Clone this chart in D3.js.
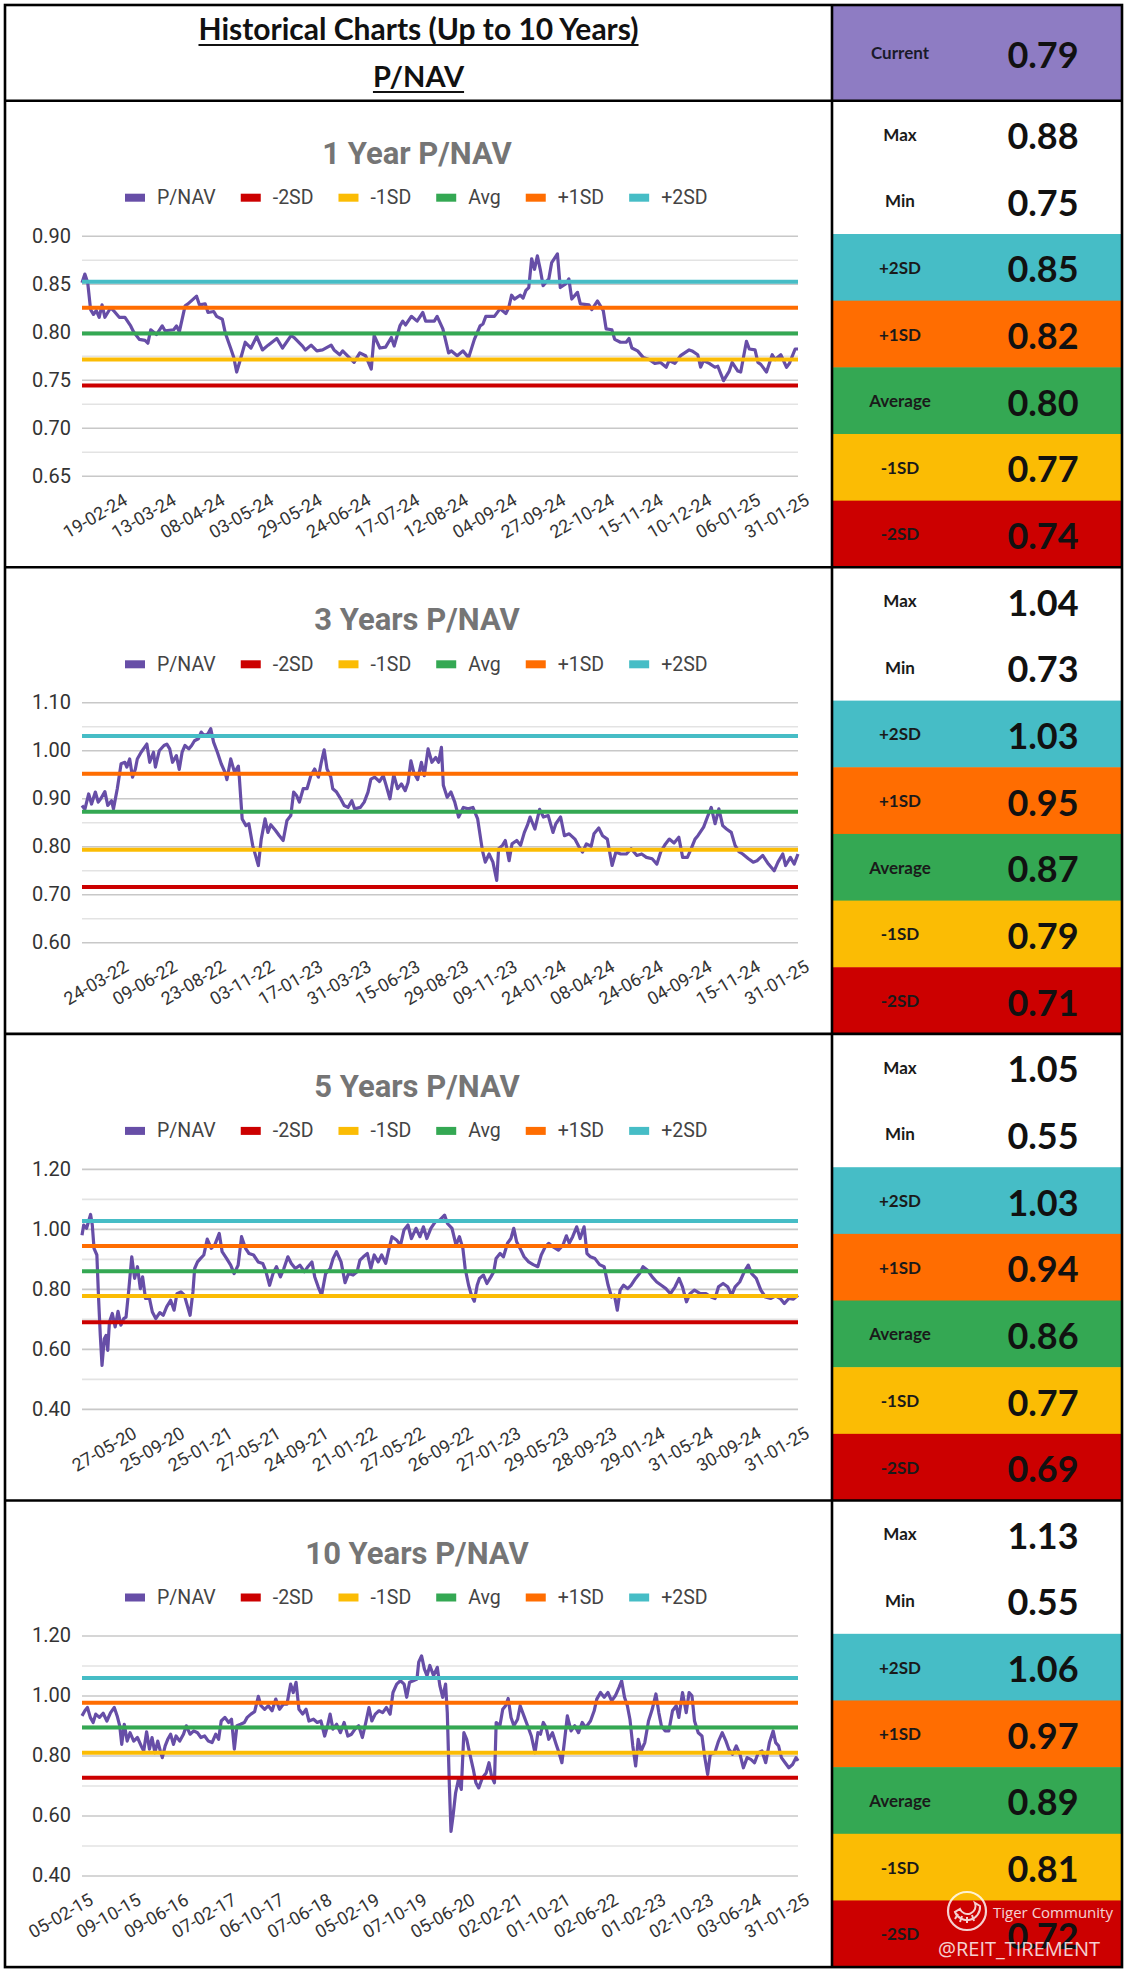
<!DOCTYPE html>
<html>
<head>
<meta charset="utf-8">
<script src="https://cdn.jsdelivr.net/npm/d3@7"></script>
<style>
  body { margin: 0; background: #fff; }
  svg { display: block; }
</style>
</head>
<body>
<svg id="chart"></svg>
<script>
// ---- values ----
const currentValue = 0.79;
const sectionTitles = ['1 Year P/NAV', '3 Years P/NAV', '5 Years P/NAV', '10 Years P/NAV'];
const legendNames = ['P/NAV', '-2SD', '-1SD', 'Avg', '+1SD', '+2SD'];
const rowLabels = ['Max', 'Min', '+2SD', '+1SD', 'Average', '-1SD', '-2SD'];

const table1y = [0.88, 0.75, 0.85, 0.82, 0.80, 0.77, 0.74];
const table3y = [1.04, 0.73, 1.03, 0.95, 0.87, 0.79, 0.71];
const table5y = [1.05, 0.55, 1.03, 0.94, 0.86, 0.77, 0.69];
const table10y = [1.13, 0.55, 1.06, 0.97, 0.89, 0.81, 0.72];

// band lines, order -2SD, -1SD, Avg, +1SD, +2SD
const refs1y = [0.744, 0.771, 0.798, 0.825, 0.852];
const refs3y = [0.715, 0.793, 0.872, 0.951, 1.030];
const refs5y = [0.689, 0.776, 0.859, 0.943, 1.026];
const refs10y = [0.726, 0.809, 0.893, 0.976, 1.058];

const yDomain1y = [0.65, 0.90], yGrid1y = [0.025, 0.05];
const yDomain3y = [0.60, 1.10], yGrid3y = [0.05, 0.10];
const yDomain5y = [0.40, 1.20], yGrid5y = [0.10, 0.20];
const yDomain10y = [0.40, 1.20], yGrid10y = [0.10, 0.20];

const ticks1y = ['19-02-24','13-03-24','08-04-24','03-05-24','29-05-24','24-06-24','17-07-24','12-08-24','04-09-24','27-09-24','22-10-24','15-11-24','10-12-24','06-01-25','31-01-25'];
const ticks3y = ['24-03-22','09-06-22','23-08-22','03-11-22','17-01-23','31-03-23','15-06-23','29-08-23','09-11-23','24-01-24','08-04-24','24-06-24','04-09-24','15-11-24','31-01-25'];
const ticks5y = ['27-05-20','25-09-20','25-01-21','27-05-21','24-09-21','21-01-22','27-05-22','26-09-22','27-01-23','29-05-23','28-09-23','29-01-24','31-05-24','30-09-24','31-01-25'];
const ticks10y = ['05-02-15','09-10-15','09-06-16','07-02-17','06-10-17','07-06-18','05-02-19','07-10-19','05-06-20','02-02-21','01-10-21','02-06-22','01-02-23','02-10-23','03-06-24','31-01-25'];
// trading days between labels (labels counted back from the last day)
const tickStep1y = 17, tickStep3y = 51, tickStep5y = 84, tickStep10y = 167;

// [trading day, P/NAV]
const pnav1y = [[0,0.851],[1,0.860],[2,0.851],[3,0.823],[4,0.818],[5,0.822],[6,0.815],[7,0.828],[8,0.815],[10,0.825],[11,0.822],[13,0.815],[15,0.815],[17,0.806],[18,0.800],[20,0.792],[22,0.791],[23,0.788],[24,0.802],[26,0.797],[28,0.806],[29,0.801],[32,0.802],[33,0.806],[34,0.800],[36,0.827],[37,0.829],[40,0.837],[41,0.828],[43,0.829],[44,0.820],[46,0.821],[47,0.816],[49,0.813],[50,0.799],[52,0.782],[53,0.773],[54,0.758],[55,0.768],[57,0.789],[59,0.783],[61,0.795],[63,0.781],[65,0.786],[68,0.793],[70,0.783],[73,0.796],[74,0.794],[77,0.785],[78,0.781],[80,0.786],[82,0.780],[84,0.781],[87,0.786],[88,0.781],[90,0.776],[91,0.780],[93,0.774],[95,0.768],[97,0.778],[99,0.775],[100,0.768],[101,0.761],[102,0.796],[104,0.783],[106,0.784],[108,0.794],[109,0.785],[111,0.806],[112,0.811],[113,0.807],[115,0.816],[117,0.811],[119,0.820],[120,0.811],[123,0.811],[124,0.816],[126,0.803],[128,0.778],[129,0.780],[131,0.775],[133,0.780],[135,0.773],[137,0.792],[139,0.806],[140,0.808],[141,0.816],[144,0.816],[146,0.824],[148,0.819],[149,0.825],[150,0.838],[151,0.834],[153,0.838],[154,0.835],[155,0.843],[156,0.846],[157,0.876],[158,0.865],[159,0.879],[160,0.865],[161,0.848],[163,0.855],[164,0.872],[166,0.881],[167,0.846],[169,0.850],[170,0.855],[171,0.834],[173,0.841],[174,0.829],[177,0.828],[178,0.823],[180,0.832],[182,0.822],[183,0.803],[185,0.802],[186,0.792],[188,0.789],[190,0.789],[191,0.793],[192,0.783],[194,0.780],[196,0.773],[198,0.771],[200,0.767],[202,0.768],[204,0.763],[205,0.770],[207,0.767],[209,0.775],[212,0.781],[213,0.780],[215,0.776],[216,0.763],[217,0.770],[219,0.767],[221,0.763],[222,0.764],[224,0.749],[226,0.759],[227,0.768],[229,0.759],[230,0.758],[232,0.790],[233,0.782],[235,0.781],[236,0.768],[237,0.766],[239,0.758],[241,0.776],[242,0.771],[244,0.776],[246,0.763],[247,0.767],[249,0.782],[250,0.782]];

const pnav3y = [[0,0.885],[3,0.877],[7,0.909],[10,0.888],[14,0.913],[17,0.892],[20,0.900],[24,0.914],[27,0.885],[31,0.895],[33,0.878],[37,0.920],[41,0.972],[45,0.975],[47,0.965],[50,0.982],[53,0.944],[56,0.961],[58,0.982],[62,0.996],[68,1.013],[71,0.975],[75,0.996],[77,0.965],[81,0.999],[86,1.010],[89,1.013],[92,1.003],[95,0.975],[99,0.989],[102,0.960],[105,0.996],[108,1.010],[112,1.003],[115,1.010],[118,1.020],[122,1.024],[125,1.038],[128,1.031],[132,1.034],[135,1.045],[138,1.017],[142,0.996],[146,0.972],[150,0.954],[152,0.939],[156,0.982],[160,0.954],[164,0.967],[165,0.944],[168,0.857],[172,0.843],[175,0.847],[179,0.802],[182,0.781],[185,0.760],[188,0.815],[192,0.857],[195,0.829],[198,0.845],[203,0.833],[207,0.822],[211,0.812],[215,0.854],[219,0.864],[222,0.913],[225,0.906],[228,0.892],[232,0.920],[236,0.920],[240,0.947],[244,0.961],[248,0.944],[251,0.975],[254,1.001],[257,0.961],[261,0.944],[263,0.920],[267,0.913],[271,0.900],[275,0.885],[279,0.881],[283,0.895],[286,0.878],[292,0.881],[296,0.892],[300,0.913],[303,0.940],[307,0.944],[312,0.935],[316,0.947],[319,0.927],[323,0.899],[327,0.949],[331,0.920],[335,0.930],[339,0.916],[342,0.933],[345,0.978],[348,0.954],[352,0.939],[356,0.975],[359,0.947],[363,1.003],[367,0.975],[371,0.985],[374,0.975],[377,1.006],[379,0.927],[383,0.902],[387,0.913],[391,0.892],[395,0.861],[400,0.881],[405,0.878],[410,0.881],[415,0.857],[420,0.791],[423,0.767],[427,0.784],[431,0.767],[435,0.729],[437,0.795],[441,0.802],[444,0.812],[448,0.770],[451,0.805],[456,0.812],[460,0.802],[464,0.829],[467,0.843],[470,0.861],[475,0.836],[480,0.877],[484,0.861],[489,0.864],[494,0.829],[497,0.847],[502,0.861],[506,0.822],[511,0.826],[517,0.815],[521,0.800],[525,0.788],[529,0.805],[534,0.800],[537,0.826],[542,0.838],[546,0.822],[551,0.815],[556,0.760],[560,0.788],[565,0.784],[571,0.784],[576,0.795],[582,0.781],[587,0.784],[592,0.777],[598,0.774],[603,0.763],[607,0.788],[612,0.805],[616,0.815],[621,0.807],[626,0.819],[630,0.777],[635,0.777],[639,0.795],[643,0.815],[646,0.822],[652,0.840],[656,0.861],[660,0.881],[664,0.847],[668,0.878],[672,0.843],[676,0.836],[681,0.829],[685,0.802],[689,0.789],[693,0.784],[699,0.774],[704,0.767],[708,0.770],[714,0.781],[720,0.763],[726,0.749],[730,0.767],[735,0.784],[738,0.760],[743,0.777],[747,0.763],[751,0.784]];

const pnav5y = [[0,0.979],[3,1.013],[8,1.002],[15,1.048],[18,1.013],[21,0.935],[26,0.913],[29,0.768],[32,0.645],[35,0.545],[39,0.634],[42,0.645],[45,0.595],[48,0.690],[53,0.718],[58,0.673],[63,0.725],[68,0.679],[73,0.701],[77,0.706],[82,0.801],[87,0.907],[92,0.835],[97,0.874],[102,0.801],[106,0.840],[111,0.768],[118,0.768],[123,0.723],[129,0.701],[136,0.721],[142,0.712],[148,0.740],[155,0.762],[161,0.729],[166,0.784],[173,0.790],[179,0.779],[184,0.745],[189,0.712],[194,0.790],[197,0.868],[202,0.890],[207,0.901],[213,0.913],[219,0.966],[226,0.935],[232,0.946],[240,0.985],[245,0.924],[253,0.901],[260,0.879],[266,0.851],[273,0.879],[279,0.974],[286,0.935],[292,0.918],[300,0.913],[308,0.890],[316,0.885],[321,0.862],[328,0.812],[334,0.851],[340,0.874],[347,0.840],[353,0.868],[360,0.907],[366,0.885],[373,0.868],[381,0.879],[389,0.857],[395,0.874],[402,0.890],[407,0.840],[413,0.807],[419,0.779],[426,0.851],[434,0.868],[439,0.901],[445,0.924],[453,0.890],[460,0.821],[466,0.851],[474,0.846],[481,0.857],[486,0.896],[492,0.907],[499,0.918],[505,0.868],[511,0.913],[518,0.890],[524,0.913],[531,0.885],[537,0.935],[542,0.974],[550,0.963],[557,0.946],[563,0.996],[570,1.013],[576,0.968],[584,1.002],[591,0.974],[597,1.007],[603,0.968],[610,1.002],[618,1.024],[626,1.030],[634,1.046],[639,1.018],[647,1.002],[654,0.946],[660,0.974],[666,0.935],[670,0.868],[676,0.812],[681,0.779],[686,0.759],[691,0.812],[695,0.835],[702,0.846],[708,0.818],[715,0.840],[720,0.857],[724,0.901],[731,0.918],[737,0.907],[744,0.952],[750,0.968],[755,1.002],[760,0.957],[766,0.935],[773,0.907],[781,0.890],[789,0.881],[797,0.874],[803,0.913],[810,0.940],[816,0.952],[824,0.940],[833,0.929],[841,0.946],[847,0.977],[852,0.952],[858,0.974],[865,1.007],[871,0.968],[878,1.007],[883,0.918],[889,0.907],[897,0.901],[905,0.881],[913,0.874],[920,0.812],[926,0.773],[931,0.779],[936,0.729],[941,0.796],[947,0.812],[954,0.801],[960,0.812],[968,0.835],[975,0.851],[981,0.874],[989,0.862],[997,0.840],[1005,0.823],[1013,0.812],[1021,0.801],[1029,0.784],[1037,0.807],[1044,0.835],[1050,0.807],[1057,0.757],[1063,0.784],[1071,0.796],[1081,0.784],[1091,0.784],[1100,0.773],[1107,0.768],[1113,0.807],[1121,0.818],[1129,0.807],[1136,0.779],[1142,0.807],[1150,0.823],[1158,0.857],[1165,0.879],[1171,0.851],[1179,0.835],[1187,0.796],[1195,0.773],[1204,0.768],[1213,0.777],[1221,0.768],[1228,0.751],[1236,0.768],[1244,0.766],[1252,0.779]];

const pnav10y = [[0,0.932],[10,0.949],[19,0.960],[29,0.927],[39,0.910],[48,0.938],[61,0.927],[74,0.941],[87,0.915],[100,0.943],[113,0.960],[123,0.932],[132,0.899],[139,0.837],[148,0.904],[158,0.848],[168,0.876],[181,0.848],[194,0.860],[207,0.832],[216,0.815],[226,0.879],[236,0.821],[245,0.860],[255,0.809],[265,0.848],[274,0.815],[281,0.793],[291,0.832],[300,0.854],[310,0.871],[320,0.837],[329,0.865],[342,0.848],[355,0.871],[365,0.899],[378,0.871],[391,0.882],[404,0.876],[416,0.860],[429,0.865],[442,0.848],[455,0.843],[468,0.871],[478,0.854],[487,0.915],[500,0.927],[513,0.910],[523,0.921],[533,0.821],[542,0.899],[555,0.904],[568,0.910],[578,0.927],[591,0.938],[604,0.946],[617,0.997],[626,0.966],[639,0.954],[652,0.966],[665,0.949],[678,0.988],[691,0.954],[704,0.971],[717,0.971],[730,1.038],[739,1.010],[749,1.044],[759,0.954],[772,0.938],[784,0.954],[794,0.915],[810,0.921],[823,0.910],[836,0.915],[849,0.865],[859,0.899],[868,0.938],[878,0.888],[891,0.904],[904,0.876],[917,0.910],[930,0.865],[943,0.871],[955,0.888],[968,0.899],[981,0.860],[994,0.915],[1004,0.960],[1014,0.915],[1026,0.938],[1039,0.949],[1052,0.943],[1065,0.960],[1078,0.938],[1088,1.010],[1101,1.038],[1114,1.049],[1127,1.038],[1136,0.994],[1146,1.044],[1159,1.049],[1172,1.055],[1178,1.111],[1188,1.132],[1198,1.088],[1207,1.066],[1217,1.100],[1230,1.066],[1243,1.094],[1252,1.033],[1262,0.994],[1272,1.038],[1278,0.943],[1285,0.709],[1291,0.547],[1298,0.597],[1307,0.675],[1317,0.720],[1327,0.687],[1336,0.876],[1346,0.854],[1356,0.809],[1369,0.754],[1378,0.709],[1388,0.692],[1401,0.726],[1414,0.742],[1424,0.776],[1433,0.731],[1443,0.709],[1449,0.910],[1462,0.899],[1472,0.954],[1482,0.966],[1491,0.990],[1501,0.927],[1511,0.899],[1524,0.921],[1533,0.966],[1546,0.932],[1559,0.899],[1572,0.865],[1585,0.809],[1595,0.876],[1604,0.871],[1614,0.910],[1624,0.893],[1633,0.854],[1646,0.876],[1659,0.837],[1669,0.809],[1679,0.776],[1688,0.848],[1698,0.932],[1711,0.882],[1724,0.899],[1737,0.876],[1750,0.910],[1762,0.893],[1779,0.915],[1792,0.949],[1801,0.988],[1814,1.010],[1827,0.994],[1840,1.010],[1853,0.982],[1866,0.999],[1879,1.027],[1888,1.049],[1898,0.994],[1908,0.966],[1917,0.921],[1927,0.832],[1937,0.765],[1946,0.854],[1956,0.815],[1969,0.843],[1982,0.915],[1995,0.954],[2008,1.005],[2018,0.943],[2027,0.899],[2040,0.882],[2053,0.882],[2066,0.949],[2079,0.966],[2088,0.927],[2101,1.010],[2114,0.943],[2124,1.010],[2134,0.999],[2143,0.915],[2156,0.876],[2169,0.865],[2179,0.793],[2189,0.737],[2198,0.804],[2214,0.809],[2227,0.848],[2240,0.876],[2253,0.848],[2263,0.821],[2276,0.804],[2289,0.832],[2302,0.804],[2314,0.759],[2327,0.793],[2340,0.787],[2353,0.776],[2366,0.809],[2379,0.815],[2392,0.776],[2405,0.843],[2418,0.882],[2427,0.843],[2437,0.832],[2447,0.793],[2460,0.776],[2473,0.759],[2486,0.770],[2498,0.793],[2505,0.782]];

// ---- styles and layout ----
const seriesColor = {'P/NAV': '#674ea7', '-2SD': '#cc0000', '-1SD': '#fbbc04', 'Avg': '#34a853', '+1SD': '#ff6d01', '+2SD': '#46bdc6'};
const rowFill = {'Max': '#ffffff', 'Min': '#ffffff', '+2SD': '#46bdc6', '+1SD': '#ff6d01', 'Average': '#34a853', '-1SD': '#fbbc04', '-2SD': '#cc0000'};
const tableFont = 'Lato, "Open Sans", sans-serif';
const chartFont = 'Roboto, "Noto Sans", sans-serif';

const W = 1130, H = 1975;
const box = {left: 5, right: 1122, top: 5, headerBottom: 100.7, sectionH: 466.6, divider: 832};
const plot = {left: 82, right: 798, top: 135, bottom: 375};
const cellLabelX = 900, cellValueX = 1043;

const svg = d3.select('#chart').attr('width', W).attr('height', H);
svg.append('rect').attr('width', W).attr('height', H).attr('fill', '#fff');

const sections = [
  {title: sectionTitles[0], series: pnav1y, refs: refs1y, domain: yDomain1y, grid: yGrid1y, ticks: ticks1y, step: tickStep1y, table: table1y},
  {title: sectionTitles[1], series: pnav3y, refs: refs3y, domain: yDomain3y, grid: yGrid3y, ticks: ticks3y, step: tickStep3y, table: table3y},
  {title: sectionTitles[2], series: pnav5y, refs: refs5y, domain: yDomain5y, grid: yGrid5y, ticks: ticks5y, step: tickStep5y, table: table5y},
  {title: sectionTitles[3], series: pnav10y, refs: refs10y, domain: yDomain10y, grid: yGrid10y, ticks: ticks10y, step: tickStep10y, table: table10y}
];

function drawSection(cfg, i) {
  const T = box.headerBottom + i * box.sectionH;
  const g = svg.append('g');
  const lastDay = d3.max(cfg.series, d => d[0]);

  const x = d3.scaleLinear().domain([0, lastDay]).range([plot.left, plot.right]);
  const y = d3.scaleLinear().domain(cfg.domain).range([T + plot.bottom, T + plot.top]);

  const [lo, hi] = cfg.domain;
  const [minor, major] = cfg.grid;
  const nGrid = Math.round((hi - lo) / minor);
  const ratio = Math.round(major / minor);
  const gridVals = d3.range(nGrid + 1).map(k => +(lo + k * minor).toFixed(4));
  const minorVals = gridVals.filter((v, k) => k % ratio !== 0);
  const majorVals = gridVals.filter((v, k) => k % ratio === 0);

  // minor grid
  g.append('g')
    .attr('transform', `translate(${plot.left},0)`)
    .call(d3.axisLeft(y).tickValues(minorVals).tickSize(-(plot.right - plot.left)).tickFormat(''))
    .call(s => s.select('.domain').remove())
    .selectAll('line').attr('stroke', '#e3e3e3').attr('stroke-width', 1.6);

  // major grid with labels
  const yAxis = g.append('g')
    .attr('transform', `translate(${plot.left},0)`)
    .call(d3.axisLeft(y).tickValues(majorVals).tickSize(-(plot.right - plot.left)).tickPadding(11).tickFormat(d3.format('.2f')))
    .call(s => s.select('.domain').remove());
  yAxis.selectAll('line').attr('stroke', '#c8c8c8').attr('stroke-width', 1.6);
  yAxis.selectAll('text').attr('font-family', chartFont).attr('font-size', 20).attr('fill', '#333');

  // x axis labels
  const tickDays = cfg.ticks.map((t, k) => lastDay - (cfg.ticks.length - 1 - k) * cfg.step);
  const xAxis = g.append('g')
    .attr('transform', `translate(0,${T + plot.bottom})`)
    .call(d3.axisBottom(x).tickValues(tickDays).tickSize(0).tickFormat((d, k) => cfg.ticks[k]))
    .call(s => s.select('.domain').remove());
  xAxis.selectAll('text')
    .attr('font-family', chartFont).attr('font-size', 18).attr('fill', '#333')
    .attr('text-anchor', 'end').attr('x', 0).attr('y', 0).attr('dy', 0)
    .attr('transform', 'translate(12,28) rotate(-30)');

  // P/NAV line
  g.append('path')
    .datum(cfg.series)
    .attr('fill', 'none')
    .attr('stroke', seriesColor['P/NAV'])
    .attr('stroke-width', 3.2)
    .attr('stroke-linejoin', 'round')
    .attr('d', d3.line().x(d => x(d[0])).y(d => y(d[1])));

  // band lines
  g.append('g').selectAll('line')
    .data(cfg.refs)
    .join('line')
    .attr('x1', x(0)).attr('x2', x(lastDay))
    .attr('y1', d => y(d)).attr('y2', d => y(d))
    .attr('stroke', (d, k) => seriesColor[legendNames[k + 1]])
    .attr('stroke-width', 4);

  // title
  g.append('text')
    .attr('x', 417).attr('y', T + 63)
    .attr('text-anchor', 'middle')
    .attr('font-family', chartFont).attr('font-weight', 700).attr('font-size', 31)
    .attr('fill', '#757575')
    .text(cfg.title);

  // legend
  let lx = 125;
  const legY = T + 97;
  legendNames.forEach(name => {
    g.append('rect').attr('x', lx).attr('y', legY - 4).attr('width', 20).attr('height', 8)
      .attr('fill', seriesColor[name]);
    const t = g.append('text').attr('x', lx + 32).attr('y', legY)
      .attr('dominant-baseline', 'central')
      .attr('font-family', chartFont).attr('font-size', 19.5).attr('fill', '#444')
      .text(name);
    lx += 32 + t.node().getComputedTextLength() + 25;
  });

  // table column
  const rowH = box.sectionH / rowLabels.length;
  const rows = g.append('g').selectAll('g')
    .data(rowLabels.map((lab, k) => ({lab, val: cfg.table[k], k})))
    .join('g');
  rows.append('rect')
    .attr('x', box.divider).attr('y', d => T + d.k * rowH)
    .attr('width', box.right - box.divider).attr('height', rowH + 0.5)
    .attr('fill', d => rowFill[d.lab]);
  rows.append('text')
    .attr('x', cellLabelX).attr('y', d => T + (d.k + 0.5) * rowH)
    .attr('text-anchor', 'middle').attr('dominant-baseline', 'central')
    .attr('font-family', tableFont).attr('font-weight', 700).attr('font-size', 17)
    .attr('fill', '#1a1a1a')
    .text(d => d.lab);
  rows.append('text')
    .attr('x', cellValueX).attr('y', d => T + (d.k + 0.5) * rowH + 1)
    .attr('text-anchor', 'middle').attr('dominant-baseline', 'central')
    .attr('font-family', tableFont).attr('font-weight', 700).attr('font-size', 36)
    .attr('fill', '#111')
    .text(d => d3.format('.2f')(d.val));
}

sections.forEach(drawSection);

// ---- header ----
svg.append('rect')
  .attr('x', box.divider).attr('y', box.top)
  .attr('width', box.right - box.divider).attr('height', box.headerBottom - box.top)
  .attr('fill', '#8e7cc3');
svg.append('text')
  .attr('x', cellLabelX).attr('y', (box.top + box.headerBottom) / 2)
  .attr('text-anchor', 'middle').attr('dominant-baseline', 'central')
  .attr('font-family', tableFont).attr('font-weight', 700).attr('font-size', 17).attr('fill', '#1a1a2a')
  .text('Current');
svg.append('text')
  .attr('x', cellValueX).attr('y', (box.top + box.headerBottom) / 2 + 1)
  .attr('text-anchor', 'middle').attr('dominant-baseline', 'central')
  .attr('font-family', tableFont).attr('font-weight', 700).attr('font-size', 36).attr('fill', '#111')
  .text(d3.format('.2f')(currentValue));

const headX = (box.left + box.divider) / 2;
[['Historical Charts (Up to 10 Years)', 40, 30], ['P/NAV', 87, 29]].forEach(([txt, by, fs]) => {
  const t = svg.append('text')
    .attr('x', headX).attr('y', by)
    .attr('text-anchor', 'middle')
    .attr('font-family', tableFont).attr('font-weight', 700).attr('font-size', fs).attr('fill', '#111')
    .text(txt);
  const w = t.node().getComputedTextLength();
  svg.append('line')
    .attr('x1', headX - w / 2).attr('x2', headX + w / 2)
    .attr('y1', by + 5).attr('y2', by + 5)
    .attr('stroke', '#111').attr('stroke-width', 2.2);
});

// ---- borders ----
const borders = svg.append('g').attr('stroke', '#000').attr('stroke-width', 2.6).attr('fill', 'none');
const bottomY = box.headerBottom + 4 * box.sectionH;
borders.append('rect')
  .attr('x', box.left).attr('y', box.top)
  .attr('width', box.right - box.left).attr('height', bottomY - box.top);
borders.append('line').attr('x1', box.divider).attr('x2', box.divider).attr('y1', box.top).attr('y2', bottomY);
d3.range(4).forEach(k => {
  const yy = box.headerBottom + k * box.sectionH;
  borders.append('line').attr('x1', box.left).attr('x2', box.right).attr('y1', yy).attr('y2', yy);
});

// ---- watermark ----
const wm = svg.append('g').attr('opacity', 0.82);
wm.append('circle').attr('cx', 967).attr('cy', 1911).attr('r', 19)
  .attr('fill', 'none').attr('stroke', '#fff').attr('stroke-width', 2.2);
wm.append('path')
  .attr('d', 'M955,1912 A13,13 0 0,0 980,1906 L975,1903 A8,8 0 0,1 960,1909 Z')
  .attr('fill', 'none').attr('stroke', '#fff').attr('stroke-width', 2);
[[958,1914,955,1919],[962,1916,960,1922],[967,1917,967,1923],[972,1915,974,1921]].forEach(s => {
  wm.append('line').attr('x1', s[0]).attr('y1', s[1]).attr('x2', s[2]).attr('y2', s[3])
    .attr('stroke', '#fff').attr('stroke-width', 2);
});
wm.append('text').attr('x', 993).attr('y', 1918)
  .attr('font-family', '"Open Sans", sans-serif').attr('font-size', 15).attr('fill', '#fff')
  .text('Tiger Community');
wm.append('text').attr('x', 938).attr('y', 1956)
  .attr('font-family', '"Open Sans", sans-serif').attr('font-size', 20).attr('fill', '#fff')
  .text('@REIT_TIREMENT');
</script>
</body>
</html>
